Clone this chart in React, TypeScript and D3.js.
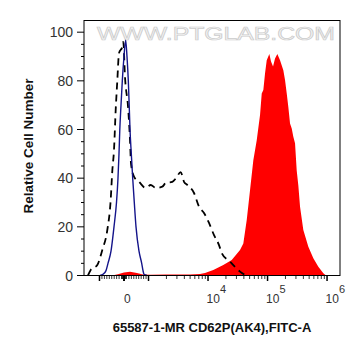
import React from 'react';
import * as d3 from 'd3';

// ---- data (fluorescence value, relative cell number) ----
const blueX = [-979, -857, -734, -653, -530, -408, -306, -245, -204, -171, -122, -69, 0, 69, 122, 176, 212, 245, 298, 355, 420, 490, 612, 722, 775, 816, 938];
const blueY = [0, 0.5, 2, 5, 10, 20, 30, 40, 50, 60, 70, 80, 90, 96.7, 90, 80, 70, 60, 50, 40, 30, 20, 10, 5, 2, 0.5, 0];

const dashX = [-1560, -1405, -1088, -885, -681, -543, -477, -408, -339, -273, -204, -69, -29, 41, 175, 245, 286, 408, 612, 885, 1088, 1321, 1705, 1944, 2511, 2897, 3475, 3949, 4486, 5813, 7056, 8560, 10390, 12610, 15300, 17180, 23420, 28420, 34470, 41840];
const dashY = [0, 2.3, 4.3, 10.5, 18.7, 31, 43, 51.5, 68, 80, 91.4, 94, 96, 81.6, 68, 55.6, 46, 40.6, 38.5, 36, 37.2, 36, 36.5, 38, 38.5, 40, 42.5, 38.5, 37.2, 33.9, 28.3, 25.7, 21.6, 16.6, 12.5, 9, 5.7, 3.5, 1.6, 0.2];

const redX = [-490, -245, 0, 245, 530, 775, 1088, 1944, 3475, 4980, 7335, 8900, 12270, 18060, 25010, 34470, 39170, 44690, 50770, 57690, 65810, 74770, 79860, 84970, 90710, 96900, 107200, 114400, 123700, 133600, 146000, 162100, 184200, 196700, 210200, 223500, 238800, 255000, 271300, 289700, 309400, 329200, 351600, 399400, 484800, 588200, 713700, 866300, 961600];
const redY = [0, 0.5, 1.2, 1.5, 1, 0.4, 0.3, 0.4, 0.4, 0.4, 0.6, 1.0, 2.3, 4.3, 6.4, 10.5, 13.2, 22.8, 35, 47.4, 55.6, 66, 74.8, 76.2, 83, 88.5, 91, 88, 85.9, 89.2, 91, 88.5, 84.4, 80.3, 74.8, 69.3, 62.5, 60.4, 57, 54.4, 43, 37, 28.3, 18.7, 11.8, 7.1, 3.6, 0.9, 0];

const yTicks = [0, 20, 40, 60, 80, 100];
const xMajor = [-1000, 0, 1000, 1e4, 1e5, 1e6];
const xLabels = [
  { v: 0, base: '0', exp: '' },
  { v: 1e4, base: '10', exp: '4' },
  { v: 1e5, base: '10', exp: '5' },
  { v: 1e6, base: '10', exp: '6' },
];
const X_MIN = -1820;
const X_MAX = 1.65e6;
const Y_MAX = 104.8;

const xTitle = '65587-1-MR CD62P(AK4),FITC-A';
const yTitle = 'Relative Cell Number';
const watermark = 'WWW.PTGLAB.COM';

// logicle-like transform: linear near zero, log beyond ±1000
const LIN = 1000;
const LIN_UNITS = 0.412;
function T(v: number): number {
  const a = Math.abs(v);
  if (a <= LIN) return (v / LIN) * LIN_UNITS;
  return Math.sign(v) * (LIN_UNITS + Math.log10(a / LIN));
}

const FONT = '"Liberation Sans", Arial, Helvetica, sans-serif';

export default function App() {
  const W = 361, H = 356;
  const left = 84, right = 340, top = 20.5, bottom = 275.5;
  const xs = d3.scaleLinear().domain([T(X_MIN), T(X_MAX)]).range([left, right]);
  const px = (v: number) => xs(T(v));
  const y = d3.scaleLinear().domain([0, Y_MAX]).range([bottom, top]);

  const zip = (xa: number[], ya: number[]) => xa.map((v, i) => [v, ya[i]] as [number, number]);

  const area = d3.area<[number, number]>()
    .x(d => px(d[0])).y0(y(0)).y1(d => y(d[1]));
  const lineSmooth = d3.line<[number, number]>()
    .x(d => px(d[0])).y(d => y(d[1])).curve(d3.curveMonotoneX);

  const redPath = area(zip(redX, redY)) || '';
  const dashPath = lineSmooth(zip(dashX, dashY)) || '';
  const bluePath = lineSmooth(zip(blueX, blueY)) || '';

  // minor x ticks
  const minor: number[] = [];
  for (let v = -900; v <= 900; v += 100) if (v !== 0) minor.push(v);
  for (let v = -100; v <= 100; v += 25) if (v !== 0 && Math.abs(v) !== 100) minor.push(v);
  for (let n = 3; n <= 6; n++) for (let k = 2; k <= 9; k++) {
    minor.push(k * Math.pow(10, n));
    minor.push(-k * Math.pow(10, n));
  }
  const minorIn = minor.filter(v => v > X_MIN && v < X_MAX);

  const yMinor: number[] = [];
  for (let v = 5; v < Y_MAX; v += 5) if (v % 20 !== 0) yMinor.push(v);

  return (
    <svg width={W} height={H} style={{ position: 'absolute', left: 0, top: 0, background: '#fff' }} fontFamily={FONT}>
      <defs>
        <clipPath id="plot">
          <rect x={left} y={top} width={right - left} height={bottom - top} />
        </clipPath>
      </defs>
      <rect x={0} y={0} width={W} height={H} fill="#fff" />
      <text x={97} y={40} fontSize={18} textLength={238} lengthAdjust="spacingAndGlyphs"
        fill="#f4f4f4" stroke="#cccccc" strokeWidth={0.7}>{watermark}</text>
      <g clipPath="url(#plot)">
        <path d={redPath} fill="#ff0000" stroke="none" />
        <path d={dashPath} fill="none" stroke="#000" strokeWidth={1.8} strokeDasharray="7,5" />
        <path d={bluePath} fill="none" stroke="#14148a" strokeWidth={1.4} />
      </g>
      <rect x={left} y={top} width={right - left} height={bottom - top} fill="none" stroke="#000" strokeWidth={1} />
      {/* y ticks */}
      {yTicks.map(t => (
        <g key={'yt' + t}>
          <line x1={left - 7} x2={left} y1={y(t)} y2={y(t)} stroke="#000" strokeWidth={1} />
          <text x={73} y={y(t) + 5} textAnchor="end" fontSize={14} fill="#333">{t}</text>
        </g>
      ))}
      {yMinor.map(t => (
        <line key={'ym' + t} x1={left - 3} x2={left} y1={y(t)} y2={y(t)} stroke="#000" strokeWidth={1} />
      ))}
      {/* x ticks */}
      {minorIn.map(v => (
        <line key={'xm' + v} x1={px(v)} x2={px(v)} y1={bottom} y2={bottom + 3.5} stroke="#000" strokeWidth={0.8} />
      ))}
      {xMajor.map(v => (
        <line key={'xM' + v} x1={px(v)} x2={px(v)} y1={bottom} y2={bottom + 5.5} stroke="#000" strokeWidth={v === 0 ? 2 : 1.5} />
      ))}
      {xLabels.map(l => (
        <text key={'xl' + l.v} x={px(l.v) - (l.exp ? 1.5 : 0)} y={302.5} fontSize={12} fill="#333">
          <tspan>{l.base}</tspan>
          {l.exp ? <tspan dy={-9.5} fontSize={11}>{l.exp}</tspan> : null}
        </text>
      ))}
      <text x={212} y={331.5} textAnchor="middle" fontSize={13} fontWeight="bold" fill="#111">{xTitle}</text>
      <text transform="translate(32.5,146) rotate(-90)" textAnchor="middle" fontSize={13.5} fontWeight="bold" fill="#111">{yTitle}</text>
    </svg>
  );
}
